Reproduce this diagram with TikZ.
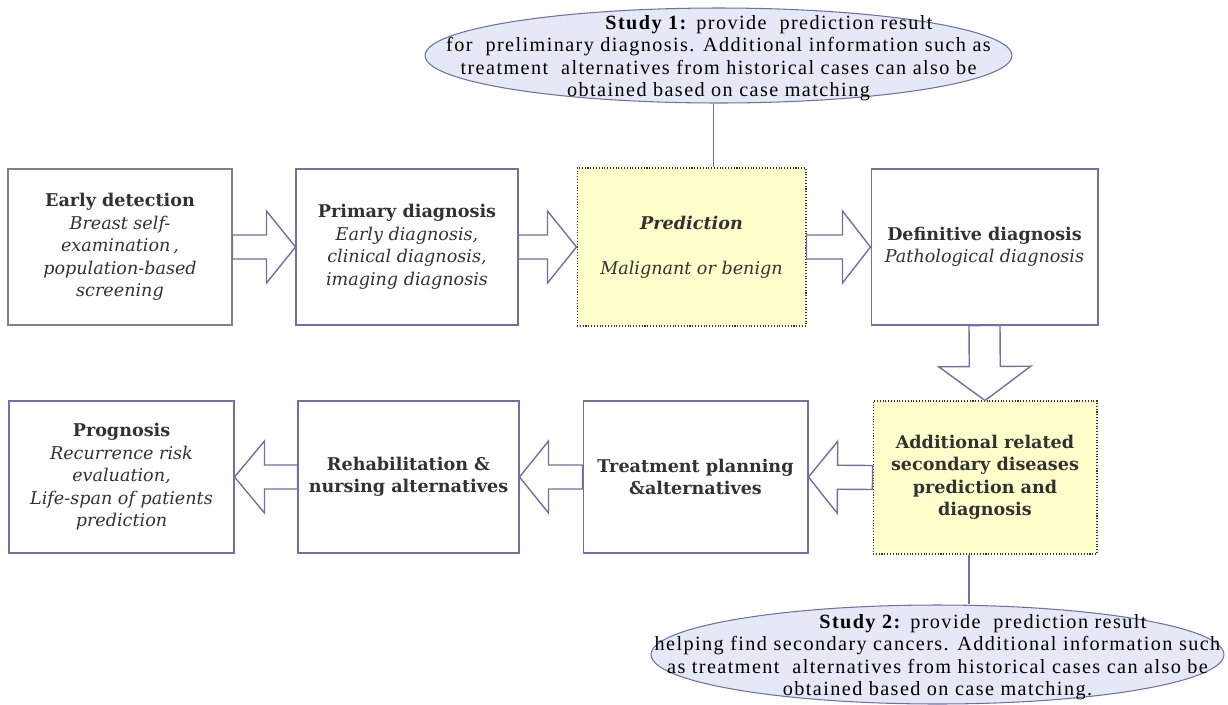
\documentclass[tikz,border=0pt]{standalone}
\usepackage{fontspec}
\setmainfont{Liberation Serif}
\newfontfamily\boxfont{DejaVu Serif}
\newfontfamily\studyfont[LetterSpace=7]{Liberation Serif}
\usetikzlibrary{calc,shapes.geometric}

\definecolor{boxline}{RGB}{112,112,168}
\definecolor{greyline}{RGB}{130,130,130}
\definecolor{predfill}{RGB}{255,255,204}
\definecolor{studyfill}{RGB}{228,233,245}
\definecolor{boxtext}{RGB}{50,50,50}

% block arrow from #1 to #2: shaft half width #3, head half width #4, head length #5
\newcommand{\blockarrow}[5]{%
  \coordinate (ba-h) at ($(#2)!#5!(#1)$);
  \draw[blockarr] ($(#1)!#3!90:(#2)$) -- ($(ba-h)!#3!90:(#2)$) -- ($(ba-h)!#4!90:(#2)$)
    -- (#2) -- ($(ba-h)!#4!-90:(#2)$) -- ($(ba-h)!#3!-90:(#2)$) -- ($(#1)!#3!-90:(#2)$) -- cycle;}

\begin{document}
\begin{tikzpicture}[x=0.02cm, y=-0.02cm,
    box/.style={rectangle, draw=boxline, line width=0.6pt, fill=white, align=center,
      text=boxtext, font=\boxfont\fontsize{10}{12.8}\selectfont, inner sep=2pt},
    predbox/.style={box, draw=black!80, densely dotted, fill=predfill},
    study/.style={ellipse, draw=boxline, line width=0.6pt, fill=studyfill, inner sep=0pt},
    studytext/.style={align=center, font=\studyfont\fontsize{11.5}{12.8}\selectfont},
    blockarr/.style={draw=boxline, line width=0.8pt, fill=white, line join=miter},
    link/.style={draw=boxline, line width=0.6pt}]
    \useasboundingbox (0,0) rectangle (1228,704);

    %Nodes
    \node[box, draw=greyline, minimum width=4.48cm, minimum height=3.12cm] at (120,247) (ed)
      {\textbf{Early detection}\\ \textit{Breast self-}\\ \textit{examination\,,}\\ \textit{population-based}\\ \textit{screening}};
    \node[box, minimum width=4.44cm, minimum height=3.12cm] at (407,247) (pd)
      {\textbf{Primary diagnosis}\\ \textit{Early diagnosis,}\\ \textit{clinical diagnosis,}\\ \textit{imaging diagnosis}};
    \node[predbox, minimum width=4.58cm, minimum height=3.16cm] at (691.5,247) (pr)
      {\textbf{\textit{Prediction}}\\[12.8pt] \textit{Malignant or benign}};
    \node[box, minimum width=4.54cm, minimum height=3.12cm] at (984.5,247) (dd)
      {\textbf{Definitive diagnosis}\\ \textit{Pathological diagnosis}};

    \node[box, minimum width=4.5cm, minimum height=3.04cm] at (121.5,477) (pg)
      {\textbf{Prognosis}\\ \textit{Recurrence risk}\\ \textit{evaluation,}\\ \textit{Life-span of patients}\\ \textit{prediction}};
    \node[box, minimum width=4.42cm, minimum height=3.04cm] at (408.5,477) (rn)
      {\textbf{Rehabilitation \&}\\ \textbf{nursing alternatives}};
    \node[box, minimum width=4.5cm, minimum height=3.04cm] at (695.5,477) (tp)
      {\textbf{Treatment planning}\\ \textbf{\&alternatives}};
    \node[predbox, minimum width=4.48cm, minimum height=3.06cm] at (985,477.5) (ad)
      {\textbf{Additional related}\\ \textbf{secondary diseases}\\ \textbf{prediction and}\\ \textbf{diagnosis}};

    \node[study, minimum width=11.74cm, minimum height=1.9cm] at (718.5,55.5) (s1) {};
    \node[studytext] at ([yshift=-0.05cm]s1.center) (s1t)
      {\hspace*{5em}\textbf{Study 1:} provide~ prediction result\\
       for~ preliminary diagnosis. Additional information such as\\
       treatment~ alternatives from historical cases can also be\\
       obtained based on case matching};
    \node[study, minimum width=11.46cm, minimum height=1.98cm] at (937.5,654.5) (s2) {};
    \node[studytext] at ([yshift=-0.05cm]s2.center) (s2t)
      {\hspace*{4.5em}\textbf{Study 2:} provide~ prediction result\\
       helping find secondary cancers. Additional information such\\
       as treatment~ alternatives from historical cases can also be\\
       obtained based on case matching.};

    %Lines
    \draw[link] ([xshift=-0.1cm]s1.south) -- ([xshift=-0.1cm]s1.south |- pr.north);
    \draw[link] ([xshift=-0.32cm]ad.south) -- ([xshift=-0.32cm]ad.south |- s2.north);

    \blockarrow{ed.east}{pd.west}{0.24cm}{0.72cm}{0.58cm}
    \blockarrow{pd.east}{pr.west}{0.24cm}{0.72cm}{0.58cm}
    \blockarrow{pr.east}{dd.west}{0.24cm}{0.72cm}{0.56cm}
    \blockarrow{dd.south}{ad.north}{0.31cm}{0.92cm}{0.68cm}
    \blockarrow{ad.west}{tp.east}{0.24cm}{0.72cm}{0.58cm}
    \blockarrow{tp.west}{rn.east}{0.24cm}{0.72cm}{0.58cm}
    \blockarrow{rn.west}{pg.east}{0.24cm}{0.72cm}{0.6cm}

\end{tikzpicture}
\end{document}
